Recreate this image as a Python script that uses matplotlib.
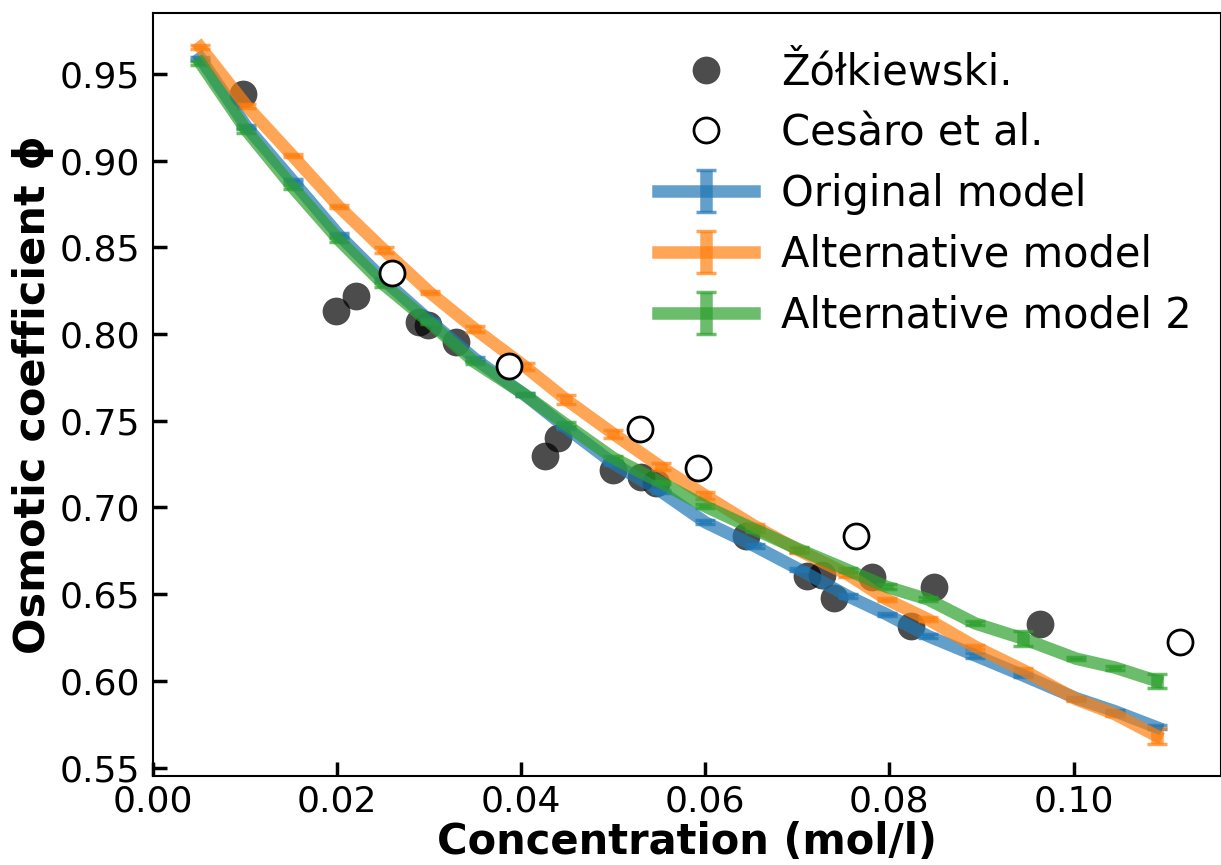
import matplotlib
matplotlib.use("Agg")
import matplotlib.pyplot as plt
import numpy as np

# Experimental data
zolk_x = [0.0098, 0.0199, 0.0221, 0.0289, 0.0299, 0.0329, 0.0426, 0.0440, 0.0500,
          0.0530, 0.0547, 0.0644, 0.0711, 0.0727, 0.0740, 0.0781, 0.0823, 0.0848, 0.0963]
zolk_y = [0.9385, 0.8130, 0.8220, 0.8070, 0.8054, 0.7956, 0.7294, 0.7403, 0.7219,
          0.7173, 0.7144, 0.6833, 0.6604, 0.6610, 0.6481, 0.6598, 0.6314, 0.6544, 0.6330]

cesaro_x = [0.0260, 0.0387, 0.0529, 0.0592, 0.0764, 0.1115]
cesaro_y = [0.8354, 0.7818, 0.7455, 0.7230, 0.6833, 0.6222]

# Model evaluation points
model_x = [0.0052, 0.0102, 0.0152, 0.0202, 0.0251, 0.0301, 0.0350, 0.0404, 0.0449,
           0.0500, 0.0552, 0.0600, 0.0654, 0.0702, 0.0755, 0.0797, 0.0842, 0.0893,
           0.0945, 0.1003, 0.1045, 0.1090]

orig_y = [0.9590, 0.9196, 0.8885, 0.8573, 0.8313, 0.8077, 0.7857, 0.7650, 0.7460,
          0.7255, 0.7092, 0.6915, 0.6777, 0.6643, 0.6489, 0.6384, 0.6259, 0.6147,
          0.6032, 0.5900, 0.5825, 0.5733]
orig_err = [0.0010, 0.0012, 0.0008, 0.0010, 0.0010, 0.0008, 0.0010, 0.0010, 0.0010,
            0.0012, 0.0010, 0.0010, 0.0010, 0.0010, 0.0010, 0.0010, 0.0010, 0.0012,
            0.0010, 0.0010, 0.0010, 0.0012]

alt_y = [0.9654, 0.9316, 0.9028, 0.8736, 0.8486, 0.8240, 0.8029, 0.7814, 0.7622,
         0.7426, 0.7234, 0.7069, 0.6892, 0.6752, 0.6614, 0.6470, 0.6355, 0.6198,
         0.6063, 0.5894, 0.5808, 0.5683]
alt_err = [0.0010, 0.0010, 0.0008, 0.0008, 0.0018, 0.0010, 0.0017, 0.0020, 0.0028,
           0.0023, 0.0020, 0.0022, 0.0012, 0.0012, 0.0015, 0.0010, 0.0012, 0.0012,
           0.0012, 0.0010, 0.0012, 0.0046]

alt2_y = [0.9562, 0.9173, 0.8847, 0.8544, 0.8285, 0.8066, 0.7837, 0.7651, 0.7478,
          0.7286, 0.7144, 0.7007, 0.6873, 0.6758, 0.6639, 0.6543, 0.6470, 0.6332,
          0.6244, 0.6128, 0.6077, 0.6000]
alt2_err = [0.0010, 0.0012, 0.0010, 0.0012, 0.0012, 0.0010, 0.0010, 0.0010, 0.0015,
            0.0012, 0.0010, 0.0012, 0.0012, 0.0015, 0.0012, 0.0015, 0.0012, 0.0012,
            0.0045, 0.0010, 0.0012, 0.0040]

fig = plt.figure(figsize=(12.21, 8.65), dpi=100)
ax = fig.add_axes([0.1249, 0.1029, 0.8751, 0.8821])

ax.plot(zolk_x, zolk_y, 'o', color='k', alpha=0.7, markersize=20,
        markeredgewidth=0, label='Žółkiewski.', zorder=1)

eb_kw = dict(linewidth=9, alpha=0.7, capsize=7, capthick=2.5, zorder=2)
ax.errorbar(model_x, orig_y, yerr=orig_err, color='tab:blue', label='Original model', **eb_kw)
ax.errorbar(model_x, alt_y, yerr=alt_err, color='tab:orange', label='Alternative model', **eb_kw)
ax.errorbar(model_x, alt2_y, yerr=alt2_err, color='tab:green', label='Alternative model 2', **eb_kw)

ax.plot(cesaro_x, cesaro_y, 'o', markerfacecolor='white', markeredgecolor='k',
        markersize=18, markeredgewidth=2, linestyle='none', label='Cesàro et al.', zorder=3)

ax.set_xlim(0, 0.116)
ax.set_ylim(0.5452, 0.9851)
ax.set_xticks([0.00, 0.02, 0.04, 0.06, 0.08, 0.10])
ax.set_yticks([0.55, 0.60, 0.65, 0.70, 0.75, 0.80, 0.85, 0.90, 0.95])
ax.set_xticklabels(['0.00', '0.02', '0.04', '0.06', '0.08', '0.10'])
ax.set_yticklabels(['0.55', '0.60', '0.65', '0.70', '0.75', '0.80', '0.85', '0.90', '0.95'])
ax.tick_params(axis='both', direction='in', length=10, width=2.5, labelsize=26)
ax.tick_params(axis='y', pad=9)
ax.tick_params(axis='x', pad=6)
for s in ax.spines.values():
    s.set_linewidth(1.5)

ax.set_xlabel('Concentration (mol/l)', fontsize=30, fontweight='bold', labelpad=2)
ax.set_ylabel('Osmotic coefficient ϕ', fontsize=31, fontweight='bold', labelpad=4)

handles, labels = ax.get_legend_handles_labels()
order = ['Žółkiewski.', 'Cesàro et al.', 'Original model', 'Alternative model', 'Alternative model 2']
hmap = dict(zip(labels, handles))
ax.legend([hmap[l] for l in order], order, loc='upper right', frameon=False,
          fontsize=30, labelspacing=0.45, handlelength=2.3, handletextpad=0.65,
          borderaxespad=0.3, bbox_to_anchor=(1.0, 0.988))

fig.savefig('out.png', dpi=100)
